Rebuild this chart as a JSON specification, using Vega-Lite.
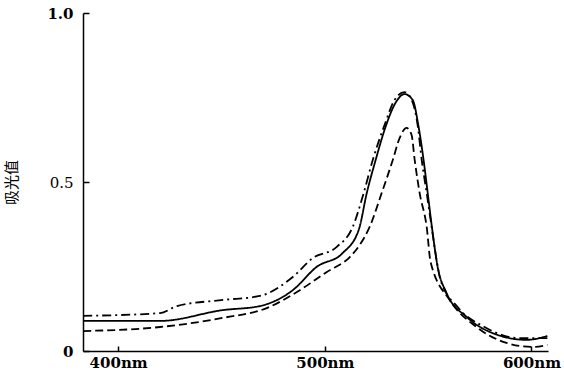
{
  "$schema": "https://vega.github.io/schema/vega-lite/v6.json",
  "autosize": "none",
  "width": 465,
  "height": 338,
  "padding": {"left": 83, "top": 13, "right": 16, "bottom": 25},
  "background": "white",
  "config": {"view": {"stroke": null}},
  "data": {"values": [
    {"s": "A", "nm": 383.1, "a": 0.104},
    {"s": "A", "nm": 420.3, "a": 0.112},
    {"s": "A", "nm": 428.5, "a": 0.133},
    {"s": "A", "nm": 450.7, "a": 0.151},
    {"s": "A", "nm": 468.6, "a": 0.163},
    {"s": "A", "nm": 484.5, "a": 0.219},
    {"s": "A", "nm": 494.2, "a": 0.275},
    {"s": "A", "nm": 505.8, "a": 0.308},
    {"s": "A", "nm": 513.5, "a": 0.367},
    {"s": "A", "nm": 518.8, "a": 0.467},
    {"s": "A", "nm": 523.2, "a": 0.565},
    {"s": "A", "nm": 529.0, "a": 0.67},
    {"s": "A", "nm": 533.8, "a": 0.743},
    {"s": "A", "nm": 538.6, "a": 0.766},
    {"s": "A", "nm": 542.0, "a": 0.743},
    {"s": "A", "nm": 544.9, "a": 0.669},
    {"s": "A", "nm": 546.9, "a": 0.565},
    {"s": "A", "nm": 549.3, "a": 0.467},
    {"s": "A", "nm": 551.7, "a": 0.367},
    {"s": "A", "nm": 554.1, "a": 0.269},
    {"s": "A", "nm": 556.0, "a": 0.21},
    {"s": "A", "nm": 564.3, "a": 0.13},
    {"s": "A", "nm": 577.3, "a": 0.071},
    {"s": "A", "nm": 594.2, "a": 0.038},
    {"s": "A", "nm": 607.7, "a": 0.038},
    {"s": "B", "nm": 383.1, "a": 0.089},
    {"s": "B", "nm": 420.3, "a": 0.089},
    {"s": "B", "nm": 450.7, "a": 0.121},
    {"s": "B", "nm": 468.6, "a": 0.133},
    {"s": "B", "nm": 484.5, "a": 0.18},
    {"s": "B", "nm": 496.1, "a": 0.249},
    {"s": "B", "nm": 508.7, "a": 0.29},
    {"s": "B", "nm": 516.5, "a": 0.36},
    {"s": "B", "nm": 520.3, "a": 0.467},
    {"s": "B", "nm": 524.6, "a": 0.565},
    {"s": "B", "nm": 529.5, "a": 0.665},
    {"s": "B", "nm": 534.3, "a": 0.735},
    {"s": "B", "nm": 538.6, "a": 0.76},
    {"s": "B", "nm": 542.5, "a": 0.743},
    {"s": "B", "nm": 545.4, "a": 0.663},
    {"s": "B", "nm": 547.8, "a": 0.565},
    {"s": "B", "nm": 549.8, "a": 0.467},
    {"s": "B", "nm": 552.2, "a": 0.349},
    {"s": "B", "nm": 554.6, "a": 0.249},
    {"s": "B", "nm": 558.9, "a": 0.172},
    {"s": "B", "nm": 568.6, "a": 0.101},
    {"s": "B", "nm": 581.2, "a": 0.053},
    {"s": "B", "nm": 597.6, "a": 0.033},
    {"s": "B", "nm": 607.7, "a": 0.044},
    {"s": "C", "nm": 383.1, "a": 0.059},
    {"s": "C", "nm": 420.3, "a": 0.071},
    {"s": "C", "nm": 450.7, "a": 0.098},
    {"s": "C", "nm": 471.9, "a": 0.127},
    {"s": "C", "nm": 487.9, "a": 0.18},
    {"s": "C", "nm": 501.0, "a": 0.234},
    {"s": "C", "nm": 512.1, "a": 0.278},
    {"s": "C", "nm": 516.9, "a": 0.314},
    {"s": "C", "nm": 521.7, "a": 0.367},
    {"s": "C", "nm": 527.5, "a": 0.467},
    {"s": "C", "nm": 532.9, "a": 0.565},
    {"s": "C", "nm": 536.2, "a": 0.63},
    {"s": "C", "nm": 539.6, "a": 0.66},
    {"s": "C", "nm": 542.0, "a": 0.639},
    {"s": "C", "nm": 543.5, "a": 0.565},
    {"s": "C", "nm": 545.9, "a": 0.467},
    {"s": "C", "nm": 549.3, "a": 0.367},
    {"s": "C", "nm": 551.2, "a": 0.263},
    {"s": "C", "nm": 560.4, "a": 0.151},
    {"s": "C", "nm": 573.4, "a": 0.071},
    {"s": "C", "nm": 587.9, "a": 0.024},
    {"s": "C", "nm": 600.5, "a": 0.012},
    {"s": "C", "nm": 607.7, "a": 0.018}
  ]},
  "mark": {"type": "line", "interpolate": "monotone", "color": "black", "strokeWidth": 1.8},
  "encoding": {
    "x": {
      "field": "nm", "type": "quantitative",
      "scale": {"domain": [383, 608], "nice": false, "zero": false},
      "axis": {
        "values": [400, 500, 600], "labelExpr": "datum.value + 'nm'",
        "grid": false, "domainColor": "black", "domainWidth": 1.5,
        "tickColor": "black", "tickSize": -5, "tickWidth": 1.5,
        "labelFont": "DejaVu Serif", "labelFontSize": 15, "labelFontWeight": "bold",
        "labelColor": "black", "labelPadding": 9, "labelFlush": false, "title": null
      }
    },
    "y": {
      "field": "a", "type": "quantitative",
      "scale": {"domain": [0, 1], "nice": false},
      "axis": {
        "values": [0, 0.5, 1], "labelExpr": "datum.value == 0 ? '0' : format(datum.value, '.1f')",
        "grid": false, "domainColor": "black", "domainWidth": 1.5,
        "tickColor": "black", "tickSize": -6, "tickWidth": 1.5,
        "labelFont": "DejaVu Serif", "labelFontSize": 15,
        "labelFontWeight": {"condition": {"test": "datum.value == 0.5", "value": "normal"}, "value": "bold"},
        "labelColor": "black", "labelPadding": 16, "labelFlush": false,
        "title": "吸光值", "titleFont": "Noto Sans CJK SC", "titleFontSize": 15,
        "titleFontWeight": "normal", "titleColor": "black", "titlePadding": 27
      }
    },
    "strokeDash": {
      "field": "s", "type": "nominal",
      "scale": {"domain": ["A", "B", "C"], "range": [[9, 4, 2, 4], [1, 0], [8, 4]]},
      "legend": null
    }
  }
}
